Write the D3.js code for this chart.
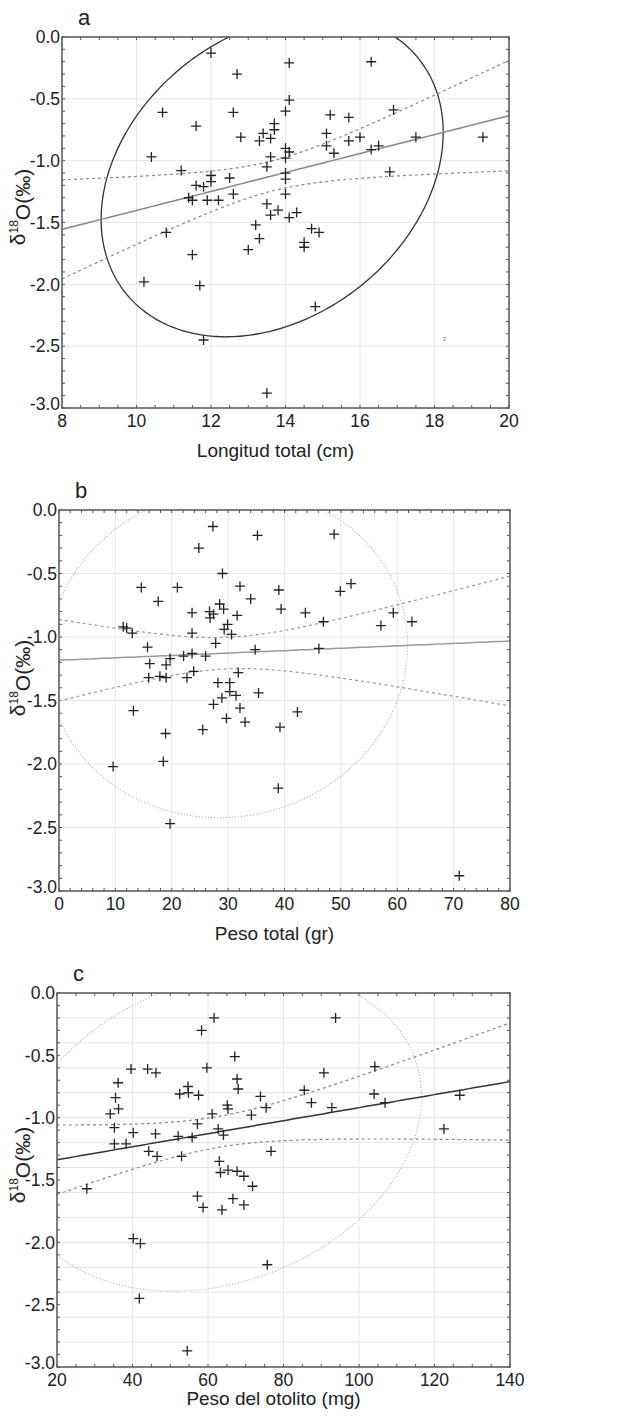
<!DOCTYPE html>
<html>
<head>
<meta charset="utf-8">
<script src="https://cdn.jsdelivr.net/npm/d3@7"></script>
<style>
    body { margin: 0; background: #fff; }
    svg { display: block; }
    text { font-family: Arial, "Liberation Sans", sans-serif; fill: #222; }
</style>
</head>
<body>
<div id="chart"></div>
<script>
// three scatter panels of δ18O against fish size, each with regression, 95% band and 95% ellipse

// a: Longitud total (cm), δ18O
const pointsA = [
    [12.0,-0.13],[14.1,-0.21],[16.3,-0.20],[12.7,-0.30],[14.1,-0.51],[10.7,-0.61],[12.6,-0.61],[14.0,-0.60],
    [15.2,-0.63],[15.7,-0.65],[16.9,-0.59],[11.6,-0.72],[13.7,-0.70],[13.7,-0.75],[13.4,-0.78],[12.8,-0.81],
    [13.3,-0.84],[13.6,-0.82],[15.1,-0.78],[15.7,-0.84],[16.0,-0.81],[17.5,-0.81],[19.3,-0.81],[14.0,-0.90],
    [15.1,-0.88],[16.3,-0.91],[16.5,-0.88],[10.4,-0.97],[13.6,-0.97],[14.0,-0.98],[14.1,-0.93],[15.3,-0.94],
    [11.2,-1.08],[13.5,-1.05],[16.8,-1.09],[14.0,-1.10],[12.0,-1.12],[12.0,-1.17],[12.5,-1.14],[14.0,-1.15],
    [11.6,-1.20],[11.8,-1.21],[12.6,-1.27],[14.0,-1.27],[11.4,-1.30],[11.5,-1.32],[11.9,-1.32],[12.2,-1.32],
    [13.5,-1.35],[13.6,-1.44],[13.8,-1.40],[14.1,-1.46],[14.3,-1.42],[10.8,-1.58],[13.2,-1.52],[13.3,-1.63],
    [13.0,-1.72],[11.5,-1.76],[14.7,-1.55],[14.9,-1.58],[14.5,-1.66],[14.5,-1.70],[10.2,-1.98],[11.7,-2.01],
    [14.8,-2.18],[11.8,-2.45],[13.5,-2.88]
];

// b: Peso total (gr), δ18O
const pointsB = [
    [27.3,-0.13],[35.2,-0.20],[48.8,-0.19],[24.8,-0.30],[29.0,-0.50],[14.6,-0.61],[21.0,-0.61],[32.1,-0.60],
    [39.0,-0.63],[51.8,-0.58],[49.9,-0.64],[17.6,-0.72],[34.0,-0.70],[28.5,-0.74],[29.2,-0.78],[39.4,-0.78],
    [23.6,-0.81],[26.7,-0.80],[27.4,-0.82],[26.8,-0.85],[31.6,-0.83],[43.7,-0.81],[59.3,-0.81],[46.9,-0.88],
    [62.6,-0.88],[57.1,-0.91],[11.4,-0.92],[12.0,-0.93],[13.0,-0.97],[23.6,-0.97],[29.9,-0.90],[29.3,-0.94],
    [30.6,-0.98],[27.8,-1.05],[15.7,-1.08],[34.8,-1.10],[46.1,-1.09],[19.7,-1.17],[22.1,-1.15],[23.6,-1.13],
    [26.0,-1.15],[16.1,-1.21],[19.0,-1.22],[31.8,-1.28],[23.9,-1.27],[15.9,-1.32],[17.9,-1.31],[19.0,-1.32],
    [22.7,-1.32],[28.2,-1.36],[30.3,-1.36],[30.3,-1.43],[31.4,-1.46],[35.4,-1.44],[28.9,-1.48],[27.4,-1.53],
    [32.1,-1.56],[13.2,-1.58],[42.3,-1.59],[29.7,-1.64],[33.0,-1.67],[39.2,-1.71],[25.5,-1.73],[18.9,-1.76],
    [9.6,-2.02],[18.5,-1.98],[38.9,-2.19],[19.7,-2.47],[71.0,-2.88]
];

// c: Peso del otolito (mg), δ18O
const pointsC = [
    [58.3,-0.30],[61.6,-0.20],[93.8,-0.20],[67.1,-0.51],[39.6,-0.61],[44.0,-0.61],[46.2,-0.64],[59.7,-0.60],
    [90.7,-0.64],[104.2,-0.59],[36.2,-0.72],[67.7,-0.69],[68.0,-0.77],[54.7,-0.75],[52.5,-0.81],[54.8,-0.80],
    [57.5,-0.82],[85.5,-0.78],[104.0,-0.81],[35.5,-0.84],[73.9,-0.83],[87.4,-0.88],[106.9,-0.88],[36.3,-0.93],
    [65.1,-0.90],[65.3,-0.93],[75.4,-0.92],[92.8,-0.92],[34.1,-0.97],[61.1,-0.97],[71.5,-0.98],[35.2,-1.08],
    [57.2,-1.05],[40.2,-1.12],[46.1,-1.13],[52.1,-1.15],[55.8,-1.16],[62.7,-1.09],[64.1,-1.14],[35.2,-1.21],
    [38.3,-1.21],[44.3,-1.27],[46.5,-1.31],[53.0,-1.31],[76.7,-1.27],[63.0,-1.35],[63.3,-1.44],[65.3,-1.42],
    [67.7,-1.43],[69.5,-1.47],[122.5,-1.09],[126.7,-0.82],[27.9,-1.57],[57.2,-1.63],[58.7,-1.72],[63.7,-1.74],
    [66.6,-1.65],[69.5,-1.70],[71.8,-1.55],[40.2,-1.97],[42.1,-2.01],[75.7,-2.18],[41.8,-2.45],[54.5,-2.87]
];

const xTicksA = [8, 10, 12, 14, 16, 18, 20];
const xTicksB = [0, 10, 20, 30, 40, 50, 60, 70, 80];
const xTicksC = [20, 40, 60, 80, 100, 120, 140];
const yTicks = [0, -0.5, -1.0, -1.5, -2.0, -2.5, -3.0];
const xTitles = ['Longitud total (cm)', 'Peso total (gr)', 'Peso del otolito (mg)'];
const panelLetters = ['a', 'b', 'c'];

const F_95 = 3.14;   // F(0.95; 2, n-2) for n ≈ 65
const T_95 = 1.998;  // t(0.975; n-2)

const W = 630, H = 1419;
const svg = d3.select('#chart').append('svg').attr('width', W).attr('height', H);
const defs = svg.append('defs');

const panels = [
    { pts: pointsA, xDomain: [8, 20], xTicks: xTicksA, xMinor: 0.5, yMinor: 0.1, yGrid: yTicks,
      box: { l: 62, r: 509, t: 37, b: 408 }, titleY: 457, yTitleY: 207,
      ellipse: { stroke: '#333', width: 1.3, dash: null },
      reg: { stroke: '#888', width: 1.5 }, band: { stroke: '#8a8a8a', dash: '3,3' } },
    { pts: pointsB, xDomain: [0, 80], xTicks: xTicksB, xMinor: 2, yMinor: 0.1, yGrid: yTicks,
      box: { l: 59, r: 510, t: 510, b: 891 }, titleY: 940, yTitleY: 678,
      ellipse: { stroke: '#aaa', width: 1.1, dash: '1,2' },
      reg: { stroke: '#999', width: 1.5 }, band: { stroke: '#999', dash: '3,3' } },
    { pts: pointsC, xDomain: [20, 140], xTicks: xTicksC, xMinor: 5, yMinor: 0.1, yGrid: d3.range(0, -3.01, -0.2),
      box: { l: 57, r: 510, t: 993, b: 1367 }, titleY: 1405, yTitleY: 1165,
      ellipse: { stroke: '#aaa', width: 1.1, dash: '1,2' },
      reg: { stroke: '#333', width: 1.5 }, band: { stroke: '#888', dash: '3,3' } }
];

function stats(pts) {
    const n = pts.length;
    const mx = d3.mean(pts, d => d[0]), my = d3.mean(pts, d => d[1]);
    let sxx = 0, syy = 0, sxy = 0;
    pts.forEach(d => { const dx = d[0] - mx, dy = d[1] - my; sxx += dx * dx; syy += dy * dy; sxy += dx * dy; });
    const slope = sxy / sxx;
    const icpt = my - slope * mx;
    let sse = 0;
    pts.forEach(d => { const r = d[1] - (icpt + slope * d[0]); sse += r * r; });
    return { n, mx, my, sxx, syy, sxy, slope, icpt, s: Math.sqrt(sse / (n - 2)) };
}

panels.forEach((p, idx) => {
    const bx = p.box;
    const x = d3.scaleLinear().domain(p.xDomain).range([bx.l, bx.r]);
    const y = d3.scaleLinear().domain([-3, 0]).range([bx.b, bx.t]);
    const g = svg.append('g');

    const clipId = 'clip' + idx;
    defs.append('clipPath').attr('id', clipId).append('rect')
        .attr('x', bx.l).attr('y', bx.t).attr('width', bx.r - bx.l).attr('height', bx.b - bx.t);

    // grid
    g.append('g').selectAll('line').data(p.xTicks.slice(1, -1)).enter().append('line')
        .attr('x1', d => x(d)).attr('x2', d => x(d)).attr('y1', bx.t).attr('y2', bx.b)
        .attr('stroke', '#e6e6e6').attr('stroke-width', 1);
    g.append('g').selectAll('line').data(p.yGrid.filter(v => v < -0.01 && v > -2.99)).enter().append('line')
        .attr('x1', bx.l).attr('x2', bx.r).attr('y1', d => y(d)).attr('y2', d => y(d))
        .attr('stroke', '#e6e6e6').attr('stroke-width', 1);

    // minor ticks on all four sides, pointing inward
    const xm = d3.range(p.xDomain[0], p.xDomain[1] + 1e-9, p.xMinor);
    const ym = d3.range(-3, 1e-9, p.yMinor);
    const tk = g.append('g').attr('stroke', '#555').attr('stroke-width', 1);
    xm.forEach(v => {
        tk.append('line').attr('x1', x(v)).attr('x2', x(v)).attr('y1', bx.b).attr('y2', bx.b - 3);
        tk.append('line').attr('x1', x(v)).attr('x2', x(v)).attr('y1', bx.t).attr('y2', bx.t + 3);
    });
    ym.forEach(v => {
        tk.append('line').attr('y1', y(v)).attr('y2', y(v)).attr('x1', bx.l).attr('x2', bx.l + 3);
        tk.append('line').attr('y1', y(v)).attr('y2', y(v)).attr('x1', bx.r).attr('x2', bx.r - 3);
    });

    const st = stats(p.pts);
    const inner = g.append('g').attr('clip-path', `url(#${clipId})`);

    // 95% ellipse from mean and covariance (Cholesky form)
    const k = Math.sqrt(2 * (st.n - 1) / (st.n - 2) * F_95);
    const a = Math.sqrt(st.sxx / (st.n - 1));
    const b = (st.sxy / (st.n - 1)) / a;
    const c = Math.sqrt(st.syy / (st.n - 1) - b * b);
    const ell = d3.range(0, 2 * Math.PI + 0.001, Math.PI / 180).map(t => [
        st.mx + k * a * Math.cos(t),
        st.my + k * (b * Math.cos(t) + c * Math.sin(t))
    ]);
    const line = d3.line().x(d => x(d[0])).y(d => y(d[1]));
    inner.append('path').attr('d', line(ell)).attr('fill', 'none')
        .attr('stroke', p.ellipse.stroke).attr('stroke-width', p.ellipse.width)
        .attr('stroke-dasharray', p.ellipse.dash);

    // regression and 95% confidence band
    const xs = d3.range(0, 101).map(i => p.xDomain[0] + (p.xDomain[1] - p.xDomain[0]) * i / 100);
    const half = v => T_95 * st.s * Math.sqrt(1 / st.n + (v - st.mx) * (v - st.mx) / st.sxx);
    const fit = v => st.icpt + st.slope * v;
    [1, -1].forEach(sgn => {
        inner.append('path').attr('d', line(xs.map(v => [v, fit(v) + sgn * half(v)])))
            .attr('fill', 'none').attr('stroke', p.band.stroke).attr('stroke-width', 1.2)
            .attr('stroke-dasharray', p.band.dash);
    });
    inner.append('path').attr('d', line(xs.map(v => [v, fit(v)])))
        .attr('fill', 'none').attr('stroke', p.reg.stroke).attr('stroke-width', p.reg.width);

    // crosses
    inner.append('g').selectAll('path').data(p.pts).enter().append('path')
        .attr('transform', d => `translate(${x(d[0])},${y(d[1])})`)
        .attr('d', 'M-5,0H5M0,-5V5')
        .attr('stroke', '#222').attr('stroke-width', 1.3).attr('fill', 'none');

    // frame
    g.append('rect').attr('x', bx.l).attr('y', bx.t).attr('width', bx.r - bx.l).attr('height', bx.b - bx.t)
        .attr('fill', 'none').attr('stroke', '#555').attr('stroke-width', 1.5);

    // tick labels
    g.append('g').selectAll('text').data(p.xTicks).enter().append('text')
        .attr('x', d => x(d)).attr('y', bx.b + 19).attr('text-anchor', 'middle')
        .style('font-size', '17.5px').text(d => d);
    g.append('g').selectAll('text').data(yTicks).enter().append('text')
        .attr('x', bx.l - 2).attr('y', d => y(d))
        .attr('dy', d => d === -3 ? '0.14em' : '0.36em')
        .attr('text-anchor', 'end')
        .style('font-size', '17.5px').text(d => d.toFixed(1));

    // titles
    g.append('text').attr('x', (bx.l + bx.r) / 2 - 10).attr('y', p.titleY).attr('text-anchor', 'middle')
        .style('font-size', '19px').text(xTitles[idx]);
    g.append('text').attr('x', bx.l + 16).attr('y', bx.t - 12).attr('text-anchor', 'start')
        .style('font-size', '22px').text(panelLetters[idx]);
    const yt = g.append('text').attr('transform', `translate(25,${p.yTitleY}) rotate(-90)`)
        .attr('text-anchor', 'middle').style('font-size', '21px');
    yt.append('tspan').text('δ');
    yt.append('tspan').attr('dy', '-0.55em').style('font-size', '12px').text('18');
    yt.append('tspan').attr('dy', '0.55em').text('O(‰)');
});

// stray small label in panel a
svg.append('text').attr('x', 443).attr('y', 341).style('font-size', '6px').style('fill', '#777').text('2');
</script>
</body>
</html>
